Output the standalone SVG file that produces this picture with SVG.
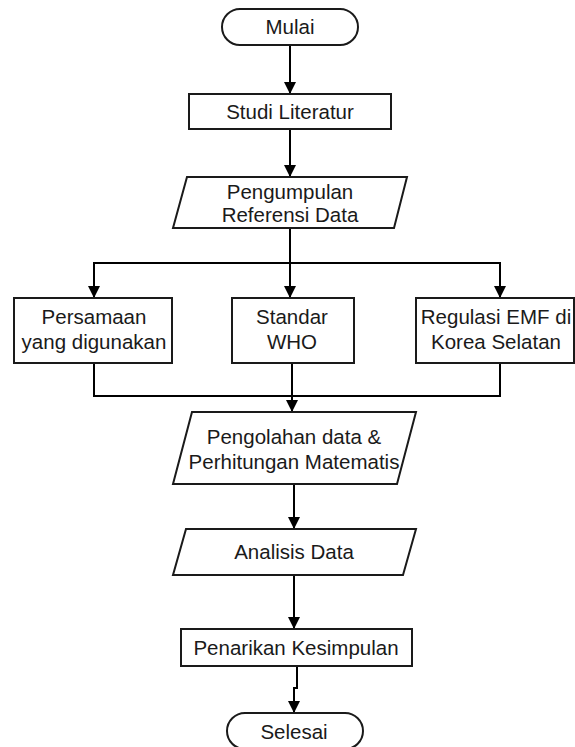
<svg xmlns="http://www.w3.org/2000/svg" width="575" height="747" viewBox="0 0 575 747">
<defs>
<marker id="ah" markerWidth="12" markerHeight="14" refX="12" refY="7" orient="auto" markerUnits="userSpaceOnUse">
<path d="M0,1 L12,7 L0,13 Z" fill="#000"/>
</marker>
<style>
.s{fill:#fff;stroke:#1a1a1a;stroke-width:2}
.t{font-family:"Liberation Sans",Arial,sans-serif;font-size:20.5px;fill:#1a1a1a;text-anchor:middle}
.c{fill:none;stroke:#000;stroke-width:2}
</style>
</defs>
<rect width="575" height="747" fill="#fff"/>
<g id="connectors">
<path class="c" d="M290,45 V94" marker-end="url(#ah)"/>
<path class="c" d="M290,129 V177" marker-end="url(#ah)"/>
<path class="c" d="M290,228 V298" marker-end="url(#ah)"/>
<path class="c" d="M94,298 V263 H500 V298" marker-end="url(#ah)"/>
<path class="c" d="M94,263 V298" marker-end="url(#ah)"/>
<path class="c" d="M94,363 V396 H500 V363"/>
<path class="c" d="M292,363 V412" marker-end="url(#ah)"/>
<path class="c" d="M294,484 V529" marker-end="url(#ah)"/>
<path class="c" d="M294,575 V629" marker-end="url(#ah)"/>
<path class="c" d="M297,666 V688 H294 V713" marker-end="url(#ah)"/>
</g>
<g id="mulai">
<rect class="s" x="222" y="9" width="136" height="36" rx="18"/>
<text class="t" x="290" y="34">Mulai</text>
</g>
<g id="studi">
<rect class="s" x="189" y="94" width="202" height="35"/>
<text class="t" x="290" y="119">Studi Literatur</text>
</g>
<g id="pengumpulan">
<polygon class="s" points="187,177 407,177 394,228 173,228"/>
<text class="t" x="290" y="199">Pengumpulan</text>
<text class="t" x="290" y="222">Referensi Data</text>
</g>
<g id="persamaan">
<rect class="s" x="14" y="298" width="158" height="65"/>
<text class="t" x="94" y="324">Persamaan</text>
<text class="t" x="94" y="349">yang digunakan</text>
</g>
<g id="who">
<rect class="s" x="232" y="298" width="122" height="65"/>
<text class="t" x="292" y="324">Standar</text>
<text class="t" x="292" y="349">WHO</text>
</g>
<g id="regulasi">
<rect class="s" x="416" y="298" width="158" height="65"/>
<text class="t" x="496" y="324">Regulasi EMF di</text>
<text class="t" x="496" y="349">Korea Selatan</text>
</g>
<g id="pengolahan">
<polygon class="s" points="192,412 416,412 397,484 173,484"/>
<text class="t" x="294" y="444">Pengolahan data &amp;</text>
<text class="t" x="294" y="469">Perhitungan Matematis</text>
</g>
<g id="analisis">
<polygon class="s" points="186,529 416,529 403,575 173,575"/>
<text class="t" x="294" y="559">Analisis Data</text>
</g>
<g id="penarikan">
<rect class="s" x="181" y="629" width="231" height="37"/>
<text class="t" x="296" y="655">Penarikan Kesimpulan</text>
</g>
<g id="selesai">
<rect class="s" x="227" y="713" width="136" height="36" rx="18"/>
<text class="t" x="294" y="739">Selesai</text>
</g>
</svg>
